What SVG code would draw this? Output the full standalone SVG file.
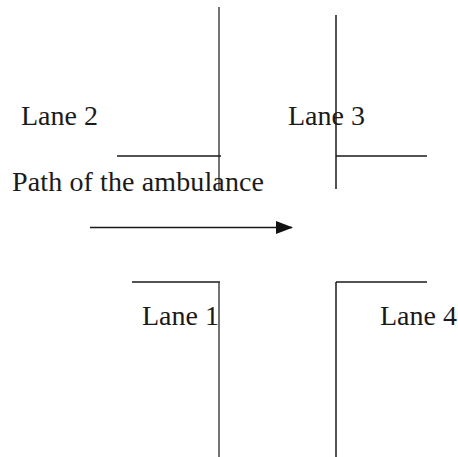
<svg xmlns="http://www.w3.org/2000/svg" width="458" height="457" viewBox="0 0 458 457">
<style>
.l{stroke:#1a1a1a;stroke-width:1.5;fill:none}
.t{font-family:"Liberation Serif","Times New Roman",serif;font-size:28px;fill:#1a1a1a}
</style>
<defs>
<marker id="ah" markerWidth="17" markerHeight="13" refX="16" refY="6.5" orient="auto" markerUnits="userSpaceOnUse" viewBox="0 0 17 13">
<path d="M0,0 L17,6.5 L0,13 Z" fill="#111"/>
</marker>
</defs>
<rect width="458" height="457" fill="#fff"/>
<g id="lane2">
<line class="l" x1="219" y1="7" x2="219" y2="190" style="stroke:#444"/>
<line class="l" x1="117" y1="156" x2="221" y2="156"/>
<text class="t" x="21" y="125">Lane 2</text>
</g>
<g id="lane3">
<line class="l" x1="336" y1="15" x2="336" y2="189"/>
<line class="l" x1="336" y1="156" x2="427" y2="156"/>
<text class="t" x="288" y="125">Lane 3</text>
</g>
<g id="lane1">
<line class="l" x1="132" y1="282" x2="220" y2="282"/>
<line class="l" x1="219" y1="282" x2="219" y2="457" style="stroke:#444"/>
<text class="t" x="142" y="325">Lane 1</text>
</g>
<g id="lane4">
<line class="l" x1="336" y1="282" x2="336" y2="457"/>
<line class="l" x1="336" y1="282" x2="427" y2="282"/>
<text class="t" x="380" y="325">Lane 4</text>
</g>
<g id="connectors">
<line class="l" x1="90" y1="227.5" x2="292" y2="227.5" marker-end="url(#ah)"/>
</g>
<text class="t" x="12" y="191" textLength="252">Path of the ambulance</text>
</svg>
